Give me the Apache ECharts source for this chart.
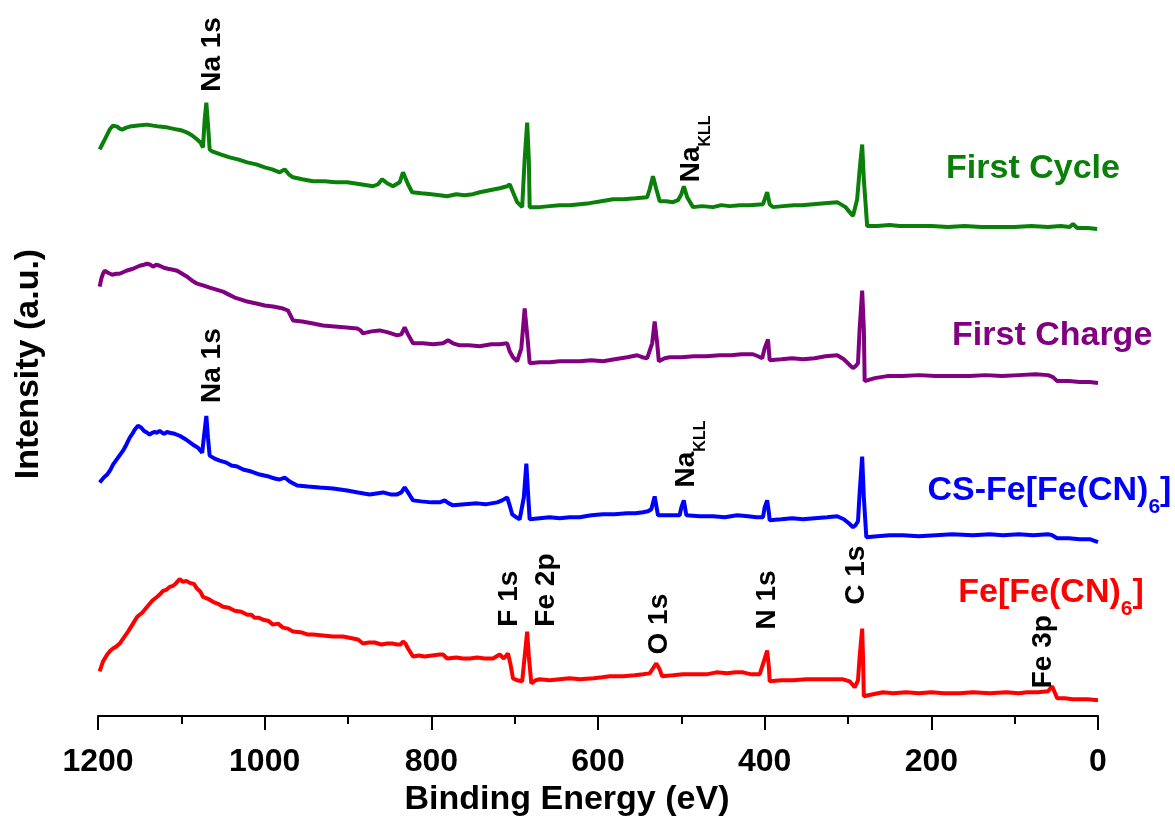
<!DOCTYPE html>
<html><head><meta charset="utf-8">
<script src="https://cdn.jsdelivr.net/npm/echarts@6/dist/echarts.min.js"></script>
<style>html,body{margin:0;padding:0;background:#fff}#c{width:1175px;height:822px}</style>
</head><body><div id="c"></div>
<script>
// Binding energy (eV) / intensity (a.u., offset stacks)
const redSpectrum = [[1198,45],[1194,55],[1189,62],[1185,66],[1182,68],[1178,70],[1174,73],[1169,79],[1164,85],[1158,93],[1153,100],[1147,104],[1141,110],[1135,116],[1129,120],[1125,123],[1122,126],[1118,127],[1114,130],[1110,131],[1106,134],[1102,138],[1098,135],[1094,136],[1090,134],[1085,133],[1081,128],[1077,125],[1074,120],[1068,118],[1062,115],[1056,113],[1050,110],[1043,109],[1036,106],[1028,105],[1021,102],[1016,102],[1012,99],[1007,99],[1002,97],[996,96],[990,92],[984,93],[978,89],[972,88],[966,85],[955,84],[948,82],[942,82],[930,81],[918,80],[906,80],[894,78],[888,77],[882,73],[875,74],[868,74],[860,72],[853,73],[847,73],[841,72],[837,72],[834,75],[831,73],[828,68],[825,64],[822,60],[815,61],[808,60],[799,61],[790,62],[786,62],[781,58],[770,59],[762,58],[754,58],[745,59],[736,58],[726,58],[722,60],[718,62],[713,58],[708,63],[705,52],[702,38],[697,36],[691,35],[688,60],[685,85],[683,60],[680,33],[675,36],[670,37],[658,36],[646,37],[634,38],[622,37],[605,38],[595,39],[586,40],[570,40],[556,41],[546,42],[538,43],[534,48],[530,53],[526,47],[523,40],[510,41],[498,42],[486,42],[470,42],[458,44],[445,43],[435,44],[426,44],[416,42],[406,42],[401,55],[397,66],[395,50],[394,35],[380,36],[366,36],[350,37],[335,37],[320,37],[306,37],[298,35],[292,29],[288,36],[286,60],[283,88],[282,60],[281,20],[270,22],[258,24],[246,23],[230,24],[215,23],[200,24],[185,23],[166,23],[150,24],[130,23],[110,24],[95,23],[85,24],[72,24],[60,25],[55,30],[52,24],[49,18],[40,18],[30,17],[22,17],[12,17],[0,16]];
const blueSpectrum = [[1198,235],[1193,240],[1189,243],[1185,248],[1182,253],[1176,260],[1170,267],[1166,273],[1162,280],[1158,285],[1156,288],[1152,292],[1148,290],[1145,287],[1141,285],[1138,283],[1135,285],[1132,286],[1129,285],[1126,287],[1123,285],[1120,284],[1117,286],[1114,285],[1108,284],[1102,282],[1094,278],[1086,273],[1080,270],[1075,265],[1073,280],[1070,302],[1068,280],[1066,262],[1060,259],[1054,257],[1046,255],[1040,252],[1033,251],[1026,248],[1016,246],[1006,243],[995,241],[988,239],[982,238],[976,240],[970,236],[961,232],[948,231],[934,230],[918,229],[901,227],[888,225],[874,223],[866,224],[858,225],[849,223],[841,223],[836,225],[832,230],[828,225],[822,217],[812,216],[800,215],[790,215],[784,217],[779,214],[774,212],[760,213],[745,214],[735,213],[721,215],[715,217],[709,220],[706,212],[703,203],[698,200],[694,198],[689,220],[686,254],[684,225],[682,198],[670,199],[658,200],[646,199],[634,200],[622,200],[608,202],[594,203],[580,203],[565,204],[555,204],[546,205],[540,206],[536,208],[532,221],[528,202],[515,202],[502,202],[500,210],[497,217],[494,202],[492,200],[478,201],[462,201],[448,200],[433,202],[420,201],[410,200],[402,200],[400,210],[397,217],[395,205],[394,197],[380,198],[367,199],[354,198],[340,199],[325,200],[313,201],[305,198],[299,194],[294,190],[291,192],[288,196],[286,225],[283,261],[281,220],[278,180],[265,181],[250,182],[234,182],[215,181],[195,182],[175,183],[150,182],[130,183],[114,182],[95,183],[78,182],[60,183],[58,185],[55,182],[49,179],[35,179],[22,178],[10,178],[0,175]];
const purpleSpectrum = [[1198,432],[1196,440],[1194,445],[1192,448],[1188,446],[1183,444],[1178,445],[1174,445],[1166,448],[1158,450],[1150,453],[1145,454],[1141,455],[1137,454],[1134,452],[1130,454],[1126,453],[1121,451],[1116,450],[1110,449],[1105,448],[1099,445],[1093,442],[1087,438],[1081,435],[1073,433],[1066,431],[1058,429],[1050,427],[1043,424],[1036,421],[1028,419],[1021,417],[1010,415],[1000,413],[990,412],[978,410],[972,408],[966,398],[955,397],[942,395],[930,393],[916,392],[902,391],[889,390],[885,388],[882,385],[872,387],[862,388],[852,386],[841,383],[836,384],[832,391],[828,384],[822,375],[810,375],[798,374],[786,375],[780,378],[774,375],[766,373],[755,373],[742,372],[728,374],[718,374],[709,375],[706,367],[702,361],[697,357],[692,370],[688,410],[684,375],[682,355],[670,356],[658,356],[646,357],[634,357],[622,357],[608,358],[594,357],[580,359],[565,361],[553,363],[547,361],[541,360],[535,375],[532,397],[529,375],[527,357],[520,360],[514,361],[500,361],[485,362],[470,362],[454,363],[440,363],[428,364],[414,364],[408,362],[403,360],[400,370],[396,379],[394,358],[380,359],[367,360],[354,359],[340,360],[327,362],[313,363],[305,359],[299,354],[294,350],[291,352],[288,355],[286,390],[283,428],[281,390],[280,337],[268,340],[253,342],[235,342],[215,343],[195,342],[175,342],[154,342],[135,343],[115,342],[95,343],[75,344],[60,343],[58,345],[54,341],[49,337],[35,337],[22,336],[10,336],[0,335]];
const greenSpectrum = [[1198,570],[1195,575],[1192,580],[1189,585],[1186,590],[1182,594],[1177,593],[1174,591],[1171,590],[1166,592],[1162,593],[1152,594],[1141,595],[1134,594],[1126,593],[1116,592],[1105,590],[1099,589],[1093,587],[1087,584],[1081,580],[1077,577],[1074,572],[1072,600],[1070,617],[1068,595],[1066,570],[1063,568],[1053,565],[1042,562],[1032,560],[1021,557],[1010,555],[1000,552],[991,550],[982,547],[976,550],[971,545],[966,542],[955,540],[942,538],[928,538],[915,537],[901,537],[885,535],[870,533],[864,535],[859,540],[853,536],[846,533],[842,535],[838,537],[834,547],[831,541],[828,535],[823,527],[812,526],[800,525],[790,524],[781,523],[770,525],[760,524],[750,525],[742,527],[730,529],[718,531],[709,533],[706,535],[702,527],[697,517],[691,512],[688,560],[685,597],[683,560],[682,512],[670,512],[658,513],[646,514],[634,514],[622,515],[610,516],[596,518],[582,520],[570,520],[555,521],[541,522],[538,530],[534,543],[530,530],[526,518],[518,518],[510,517],[504,519],[500,525],[497,533],[493,522],[486,512],[475,513],[462,512],[452,514],[442,513],[430,514],[418,514],[402,515],[397,527],[394,515],[390,512],[378,513],[365,514],[355,514],[342,515],[328,516],[313,517],[303,512],[298,507],[294,503],[289,520],[286,550],[283,575],[281,540],[277,493],[265,493],[250,494],[238,493],[220,493],[200,493],[180,492],[160,493],[140,492],[118,492],[100,492],[80,493],[60,492],[45,493],[34,492],[30,495],[25,491],[12,491],[1,490]];

const sampleNames = ['Fe[Fe(CN)6]', 'CS-Fe[Fe(CN)6]', 'First Charge', 'First Cycle'];
const sampleColors = ['#ff0000', '#0000ff', '#800080', '#0a800a'];
const sampleLabelE = [56, 58, 55, 78];
const sampleLabelI = [119, 222, 383, 551];

const peakLabels = ['Na 1s', 'Na 1s', 'NaKLL', 'NaKLL', 'F 1s', 'Fe 2p', 'O 1s', 'N 1s', 'C 1s', 'Fe 3p'];
const peakEnergies = [1063, 1063, 483, 489, 706, 662, 527, 397, 290, 66];
const peakLevels = [628, 315, 537, 230, 90, 90, 62, 87, 112, 28];

const xTicks = [0, 200, 400, 600, 800, 1000, 1200];
const xTitle = 'Binding Energy (eV)';
const yTitle = 'Intensity (a.u.)';

const FONT = "'Liberation Sans', Arial, sans-serif";
const spectra = [redSpectrum, blueSpectrum, purpleSpectrum, greenSpectrum];

function richName(name) {
  if (name.indexOf('(CN)6]') >= 0) {
    const p = name.split('(CN)6]');
    return '{m|' + p[0] + '(CN)}{sub|6}{m|]}{sp| }';
  }
  return '{m|' + name + '}';
}
function richPeak(name) {
  if (name === 'NaKLL') return '{m|Na}{sub|KLL}{sp| }';
  return '{m|' + name + '}';
}
function txt(size, col, lh, va) {
  return {fontSize: size, fontWeight: 'bold', fontFamily: FONT, color: col, lineHeight: lh,
    verticalAlign: va, textBorderWidth: 0, textBorderColor: 'transparent', textShadowBlur: 0};
}

const series = spectra.map((data, k) => {
  const col = sampleColors[k];
  const mp = [{
    coord: [sampleLabelE[k], sampleLabelI[k]],
    label: {
      show: true, position: 'inside', align: 'center', verticalAlign: 'middle',
      color: col, textBorderWidth: 0,
      formatter: richName(sampleNames[k]),
      rich: {
        m: txt(34, col, 34, 'top'),
        sub: txt(21, col, 21, 'bottom'),
        sp: {fontSize: 2, lineHeight: 44}
      }
    }
  }];
  return {
    name: sampleNames[k], type: 'line', data: data, showSymbol: false,
    lineStyle: {color: col, width: 4}, itemStyle: {color: col},
    clip: false, z: 2,
    markPoint: {symbol: 'circle', symbolSize: 0, silent: true, data: mp, animation: false}
  };
});

series.push({
  name: 'peaks', type: 'scatter', symbolSize: 0, silent: true,
  itemStyle: {color: '#000', opacity: 1},
  data: peakLabels.map((t, i) => ({value: [peakEnergies[i], peakLevels[i]], name: t})),
  label: {
    show: true, position: 'inside', rotate: 90, align: 'left', verticalAlign: 'middle',
    color: '#000', textBorderWidth: 0, opacity: 1,
    formatter: p => richPeak(p.name),
    rich: {
      m: txt(28, '#000', 28, 'top'),
      sub: txt(16, '#000', 16, 'bottom'),
      sp: {fontSize: 2, lineHeight: 37}
    }
  },
  emphasis: {disabled: true},
  z: 5
});

const chart = echarts.init(document.getElementById('c'), null, {renderer: 'canvas'});
chart.setOption({
  animation: false,
  backgroundColor: '#fff',
  grid: {left: 98, right: 77, top: 60, bottom: 102, containLabel: false},
  xAxis: {
    type: 'value', min: 0, max: 1200, interval: 200, inverse: true,
    name: xTitle, nameLocation: 'middle', nameGap: 60,
    nameTextStyle: {fontSize: 34, fontWeight: 'bold', fontFamily: FONT, color: '#000', padding: [0, 62, 0, 0]},
    axisLine: {show: true, lineStyle: {color: '#000', width: 2}},
    axisTick: {show: true, inside: false, length: 14, lineStyle: {color: '#000', width: 2}},
    minorTick: {show: true, splitNumber: 2, length: 8, lineStyle: {color: '#000', width: 2}},
    axisLabel: {fontSize: 32, fontWeight: 'bold', fontFamily: FONT, color: '#000', margin: 30,
      formatter: v => (xTicks.indexOf(v) >= 0 ? String(v) : '')},
    splitLine: {show: false}, minorSplitLine: {show: false}
  },
  yAxis: {
    type: 'value', min: 0, max: 660,
    name: yTitle, nameLocation: 'middle', nameGap: 52, nameRotate: 90,
    nameTextStyle: {fontSize: 34, fontWeight: 'bold', fontFamily: FONT, color: '#000', padding: [0, 0, 0, 48]},
    axisLine: {show: false}, axisTick: {show: false}, axisLabel: {show: false}, splitLine: {show: false}
  },
  series: series
});
</script>
</body></html>
